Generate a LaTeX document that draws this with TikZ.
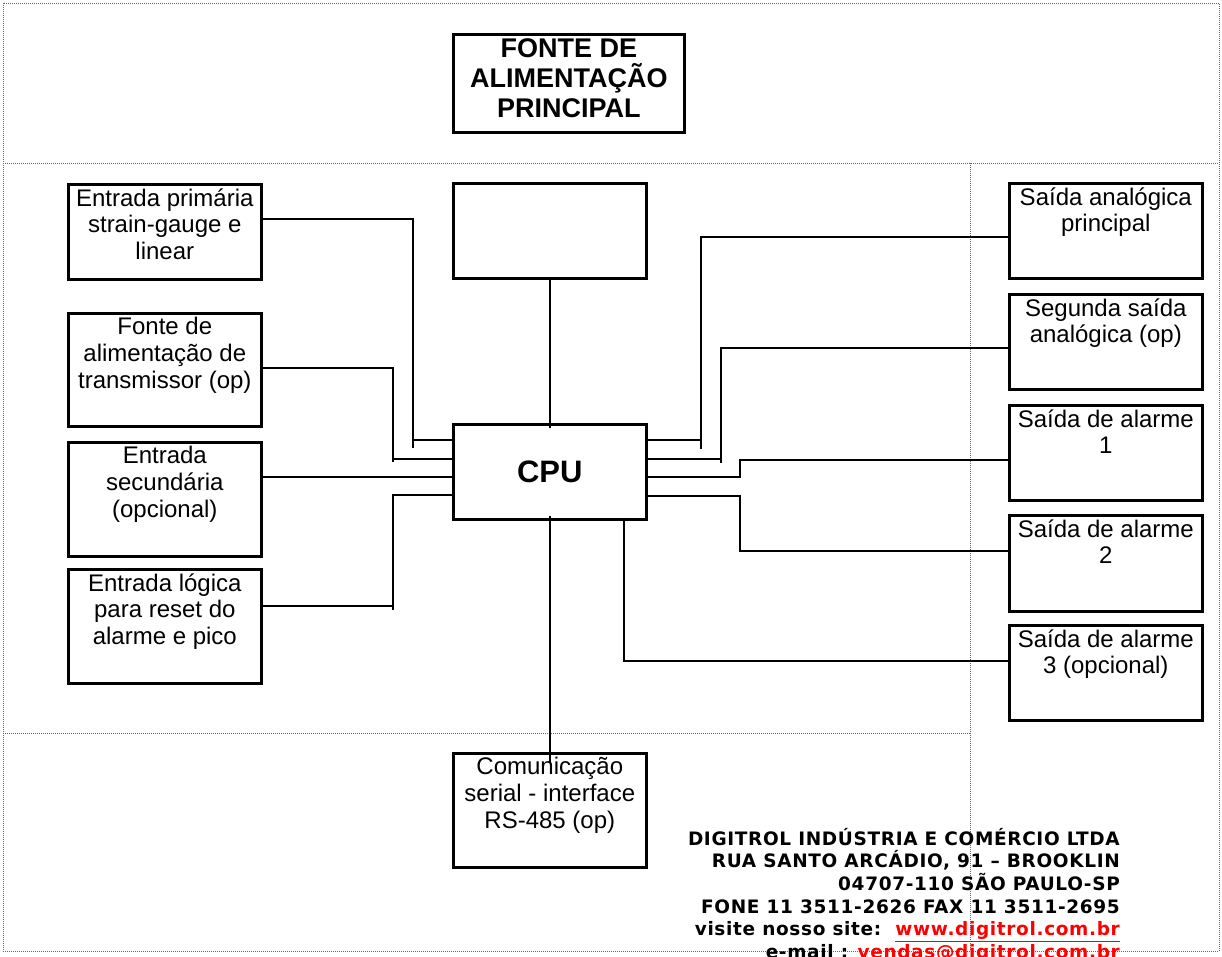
\documentclass[tikz,border=0pt]{standalone}
\usepackage{fontspec}
\setmainfont{Liberation Sans}
\newfontfamily\addrfont[LetterSpace=3.5]{DejaVu Sans}
\usetikzlibrary{positioning}
\tikzset{
box/.style={
  draw,
  rectangle,
  line width=2.6pt,
  minimum width=193pt,
  minimum height=95pt,
  inner sep=0pt,
  anchor=north west
  },
txt/.style={
  anchor=north,
  align=center,
  inner sep=0pt,
  yshift=-5.3pt,
  execute at begin node={\rule{0pt}{22pt}},
  font=\fontsize{24}{26.8}\selectfont
  },
head/.style={
  anchor=north,
  align=center,
  inner sep=0pt,
  yshift=-5.3pt,
  execute at begin node={\rule{0pt}{26pt}},
  font=\bfseries\fontsize{27}{30}\selectfont
  },
wire/.style={line width=2pt},
frame/.style={line width=0.9pt, black!60, dash pattern=on 1pt off 1pt}
}

\begin{document}
\begin{tikzpicture}[x=1pt,y=-1pt]
\useasboundingbox (0,0) rectangle (1222,956);
% page frame
\draw[frame] (3,3) rectangle (1219,951);
\draw[frame] (3,163) -- (1219,163);
\draw[frame] (970,163) -- (970,951);
\draw[frame] (3,733) -- (970,733);

\node[box, minimum width=231pt, minimum height=98pt,
  label={[head]north:FONTE DE\\ALIMENTAÇÃO\\PRINCIPAL}] (fonte) at (452,33) {};

% inputs
\node[box, label={[txt]north:Entrada primária\\strain-gauge e\\linear}] (prim) at (67,183) {};
\node[box, minimum height=113pt, label={[txt]north:Fonte de\\alimentação de\\transmissor (op)}] (trans) at (67,312) {};
\node[box, minimum height=114pt, label={[txt]north:Entrada\\secundária\\(opcional)}] (sec) at (67,441) {};
\node[box, minimum height=114pt, label={[txt]north:Entrada lógica\\para reset do\\alarme e pico}] (logic) at (67,568) {};

\node[box] (aux) at (452,182) {};
\node[box, font=\bfseries\fontsize{31}{31}\selectfont] (cpu) at (452,423) {CPU};
\node[box, minimum height=114pt, label={[txt]north:Comunicação\\serial - interface\\RS-485 (op)}] (serial) at (452,752) {};

% outputs
\node[box, label={[txt]north:Saída analógica\\principal}] (ana) at (1008,182) {};
\node[box, label={[txt]north:Segunda saída\\analógica (op)}] (ana2) at (1008,293) {};
\node[box, label={[txt]north:Saída de alarme\\1}] (alm1) at (1008,404) {};
\node[box, minimum height=96pt, label={[txt]north:Saída de alarme\\2}] (alm2) at (1008,514) {};
\node[box, label={[txt]north:Saída de alarme\\3 (opcional)}] (alm3) at (1008,624) {};

% left side
\draw[wire] (prim.east |- 0,219) -| (413,448);
\draw[wire] (413,440) -- (cpu.west |- 0,440);
\draw[wire] (trans.east |- 0,368) -| (393,462);
\draw[wire] (393,459) -- (cpu.west |- 0,459);
\draw[wire] (sec.east |- 0,477) -- (cpu.west |- 0,477);
\draw[wire] (logic.east |- 0,606) -| (393,495) -- (cpu.west |- 0,495);
\draw[wire] (393,606) -- (393,610);

% centre
\draw[wire] (aux.south) -- ([yshift=-5pt]cpu.north);
\draw[wire] ([yshift=5pt]cpu.south) -- ([yshift=-10pt]serial.north);

% right side
\draw[wire] (cpu.east |- 0,440) -- (701,440);
\draw[wire] (701,449) |- (ana.west |- 0,237);
\draw[wire] (cpu.east |- 0,459) -- (721,459);
\draw[wire] (721,463) |- (ana2.west |- 0,348);
\draw[wire] (cpu.east |- 0,477) -| (740,460) -- (alm1.west |- 0,460);
\draw[wire] (cpu.east |- 0,496) -| (740,551) -- (alm2.west |- 0,551);
\draw[wire] ([yshift=3pt]cpu.south -| 624,0) |- (alm3.west |- 0,661);

% address
\node[anchor=base east, align=right, inner sep=0pt,
  font=\addrfont\bfseries\fontsize{18.5}{22.7}\selectfont] (firm) at (1120,958.5)
  {DIGITROL INDÚSTRIA E COMÉRCIO LTDA\\
   RUA SANTO ARCÁDIO, 91 – BROOKLIN\\
   04707-110 SÃO PAULO-SP\\
   FONE 11 3511-2626 FAX 11 3511-2695\\
   visite nosso site:\ \ \textcolor{red}{\underline{www.digitrol.com.br}}\\
   e-mail : \textcolor{red}{\underline{vendas@digitrol.com.br}}};
\end{tikzpicture}
\end{document}
